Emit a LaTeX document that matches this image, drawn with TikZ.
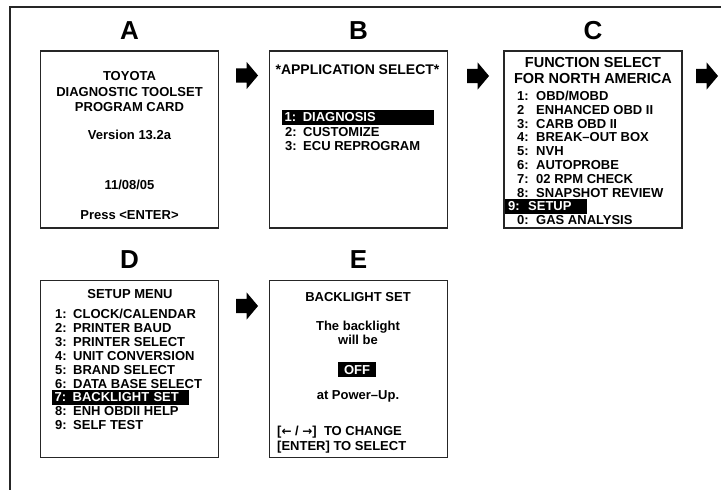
\documentclass[tikz,border=0pt]{standalone}
\usepackage{fontspec}
\setmainfont{Liberation Sans}
\newfontfamily\arrowfont{DejaVu Sans}
\usetikzlibrary{positioning,shapes.arrows}

% number column + entry text
\newcommand{\itm}[3][19pt]{\makebox[#1][l]{#2}#3}
\newcommand{\keyarr}[1]{{\arrowfont\bfseries\fontsize{12}{12}\selectfont #1}}

\begin{document}
\begin{tikzpicture}[
  x=1pt, y=-1pt,
  font=\bfseries\fontsize{13}{14}\selectfont,
  screen/.style={rectangle, draw=black!85, line width=1.2pt, minimum width=178pt, minimum height=177pt, inner sep=0pt},
  tag/.style={font=\bfseries\fontsize{26}{26}\selectfont, inner sep=0pt, text height=19pt, text depth=0pt},
  txt/.style={inner sep=0pt, text height=9pt, text depth=0pt},
  item/.style={txt, anchor=west},
  hilite/.style={item, fill=black, text=white, inner xsep=3pt, inner ysep=3pt, align=left},
  fwd/.style={single arrow, fill=black, draw=none, inner xsep=0pt, inner ysep=7pt, minimum height=22pt, single arrow head extend=6.5pt, single arrow tip angle=100}
]
\useasboundingbox (0,0) rectangle (721,490);

% frame
\coordinate (fb) at (10,490);
\coordinate (fr) at (721,7);
\draw[line width=1.2pt, black!85] (fb) |- (fr);

% screens
\node[screen] (a) at (129.5,139.5) {};
\node[screen] (b) at (358.5,139.5) {};
\node[screen] (c) at (593,139.5) {};
\node[screen] (d) at (129.5,369) {};
\node[screen] (e) at (358.5,369) {};

\node[tag, above=11pt of a] (ta) {A};
\node[tag, above=11pt of b] (tb) {B};
\node[tag, above=11pt of c] (tc) {C};
\node[tag, above=11pt of d] (td) {D};
\node[tag, above=11pt of e] (te) {E};

% block arrows
\node[fwd] (ab) at (244,75.5) {};
\node[fwd] (bc) at (475,76) {};
\node[fwd] (cd) at (704,76) {};
\node[fwd] (de) at (244,306) {};

% A
\node[txt] (a1) at (129.5,76) {TOYOTA};
\node[txt] (a2) at (129.5,92) {DIAGNOSTIC TOOLSET};
\node[txt] (a3) at (129.5,107) {PROGRAM CARD};
\node[txt] (a4) at (129.5,135) {Version 13.2a};
\node[txt] (a5) at (129.5,185) {11/08/05};
\node[txt] (a6) at (129.5,215) {Press <ENTER>};

% B
\node[txt, font=\bfseries\fontsize{14}{14}\selectfont] (b0) at (357.5,70) {*APPLICATION SELECT*};
\node[hilite, text width=146pt] (b1) at (281.5,117) {1: DIAGNOSIS};
\node[item] (b2) at (285,131.5) {\itm[18pt]{2:}{CUSTOMIZE}};
\node[item] (b3) at (285,145.5) {\itm[18pt]{3:}{ECU REPROGRAM}};

% C
\node[txt, font=\bfseries\fontsize{14.5}{15}\selectfont] (c0) at (593,63) {FUNCTION SELECT};
\node[txt, font=\bfseries\fontsize{14.5}{15}\selectfont] (c00) at (593,79) {FOR NORTH AMERICA};
\foreach \y/\n/\t [count=\i] in {96/1:/{OBD/MOBD}, 109.8/2/{ENHANCED OBD II}, 123.6/3:/{CARB OBD II},
    137.4/4:/{BREAK–OUT BOX}, 151.2/5:/{NVH}, 165/6:/{AUTOPROBE}, 178.8/7:/{02 RPM CHECK},
    192.6/8:/{SNAPSHOT REVIEW}, 220.2/0:/{GAS ANALYSIS}}
  \node[item] (c\i) at (517,\y) {\itm{\n}{\t}};
\node[hilite, text width=76pt] (c9) at (505,206) {\itm[20pt]{9:}{SETUP}};

% D
\node[txt] (d0) at (130,294) {SETUP MENU};
\foreach \y/\n/\t [count=\i] in {314/1:/{CLOCK/CALENDAR}, 328/2:/{PRINTER BAUD}, 342/3:/{PRINTER SELECT},
    356/4:/{UNIT CONVERSION}, 370/5:/{BRAND SELECT}, 384/6:/{DATA BASE SELECT},
    411/8:/{ENH OBDII HELP}, 424.5/9:/{SELF TEST}}
  \node[item] (d\i) at (55,\y) {\itm[18pt]{\n}{\t}};
\node[hilite, text width=131pt] (d7) at (51.5,397) {\itm[18pt]{7:}{BACKLIGHT SET}};

% E
\node[txt] (e1) at (358,297) {BACKLIGHT SET};
\node[txt] (e2) at (358,326) {The backlight};
\node[txt] (e3) at (358,340) {will be};
\node[hilite, anchor=center, text width=32pt, align=center] (e4) at (357,369.5) {OFF};
\node[txt] (e5) at (358,395) {at Power–Up.};
\node[item] (e6) at (277,431) {[\keyarr{←} / \keyarr{→}]\ \ TO CHANGE};
\node[item] (e7) at (277,446) {[ENTER] TO SELECT};
\end{tikzpicture}
\end{document}
